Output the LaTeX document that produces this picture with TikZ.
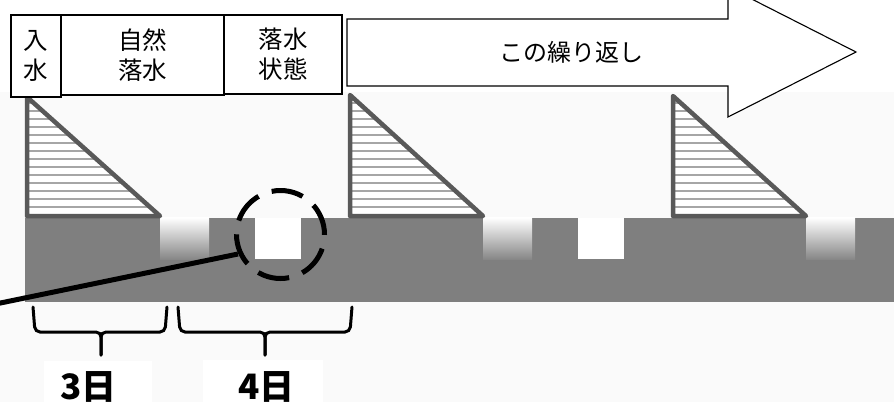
\documentclass[tikz,border=0pt]{standalone}
\usepackage{fontspec}
\setmainfont{Noto Sans CJK JP}
\definecolor{bgc}{HTML}{FAFAFA}
\definecolor{groundc}{HTML}{7F7F7F}
\definecolor{notchc}{HTML}{878787}
\definecolor{tric}{HTML}{595959}
\definecolor{stripec}{HTML}{A6A6A6}
\tikzset{
  topbox/.style={draw=black, line width=1.6, fill=white, inner sep=0, align=center,
    font=\fontsize{24.5}{30}\selectfont},
  bigarrow/.style={draw=black, line width=1.1, fill=white, line join=miter},
  tri/.style={draw=tric, line width=4.5, line join=round},
  stripe/.style={draw=stripec, line width=1.6},
  bracec/.style={draw=black, line width=3, rounded corners=5, line cap=round},
  daylab/.style={font=\bfseries\fontsize{35}{35}\selectfont, inner sep=0, anchor=base},
  drycircle/.style={draw=black, circle, line width=5, dash pattern=on 32 off 14, minimum size=88, inner sep=0}
}
\begin{document}
\begin{tikzpicture}[x=1pt,y=-1pt]
\useasboundingbox (0,0) rectangle (894,402);
\clip (0,0) rectangle (894,402);
\fill[white] (0,0) rectangle (894,402);
\fill[bgc] (0,92) rectangle (894,402);
\fill[white] (44,361) rectangle (152,402);
\fill[white] (203,360) rectangle (323,402);
% ground
\fill[groundc] (25,218) rectangle (894,302);
\foreach \a in {160,483,806}
  \shade[top color=white, bottom color=notchc] (\a,217.5) rectangle (\a+49,259);
\fill[white] (255,217.5) rectangle (301,259);
\fill[white] (578,217.5) rectangle (624,259);
% triangles
\foreach \x/\t in {27/97,350/95,673/96}{
  \begin{scope}
    \clip (\x,\t) -- (\x,216) -- (\x+133,216) -- cycle;
    \fill[white] (\x,\t) rectangle (\x+133,216);
    \foreach \yy in {103,111,...,215}
      \draw[stripe] (\x,\yy) -- (\x+133,\yy);
  \end{scope}
  \draw[tri] (\x,\t) -- (\x,216) -- (\x+133,216) -- cycle;
}
% top boxes
\node[topbox, minimum width=50, minimum height=82] (nyusui) at (36,56) {入\\水};
\node[topbox, minimum width=163, minimum height=80] (shizen) at (142.5,55) {自然\\落水};
\node[topbox, minimum width=118, minimum height=79] (rakusui) at (283,54.5) {落水\\状態};
% big arrow
\draw[bigarrow] (347,19) -- (728,19) -- (728,-13) -- (856,52) -- (728,117) -- (728,86) -- (347,86) -- cycle;
\node[font=\fontsize{24}{24}\selectfont, inner sep=0] (kurikaeshi) at (571,52) {この繰り返し};
% dashed circle and pointer line
\node[drycircle] (dry) at (280.5,234.5) {};
\coordinate (ls) at (-2,303.5);
\coordinate (le) at (238,254);
\draw[line width=5] (ls) -- (le);
% braces
\draw[bracec] (33,307) -- (35,332) -- (101,332) -- (101,355);
\draw[bracec] (167,307) -- (165,332) -- (101,332) -- (101,355);
\draw[bracec] (178,307) -- (180,332) -- (265,332) -- (265,355);
\draw[bracec] (352,307) -- (350,332) -- (265,332) -- (265,355);
% labels
\node[daylab] (d3) at (88.5,399) {3日};
\node[daylab] (d4) at (266.5,399) {4日};
\end{tikzpicture}
\end{document}
